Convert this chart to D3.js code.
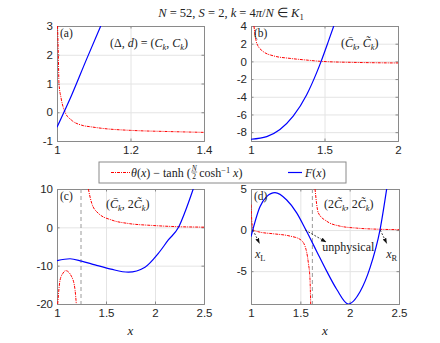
<!DOCTYPE html>
<html>
<head>
<meta charset="utf-8">
<script src="https://cdn.jsdelivr.net/npm/d3@7"></script>
<style>
body { margin: 0; background: #fff; }
</style>
</head>
<body>
<div id="chart"></div>
<script>
// values
// panel (a)
var redAx = [1.0015, 1.0036, 1.0054, 1.011, 1.022, 1.04, 1.067, 1.094, 1.13, 1.2, 1.3, 1.4];
var redAy = [3, 2, 1, 0.5, 0, -0.28, -0.45, -0.51, -0.57, -0.63, -0.67, -0.7];
var blueAx = [1, 1.04, 1.08, 1.119];
var blueAy = [-0.52, 0.6, 1.83, 3.0];
// panel (b)
var redBx = [1.02, 1.039, 1.084, 1.152, 1.265, 1.378, 1.48, 1.72, 2.0];
var redBy = [4, 2.05, 1.1, 0.63, 0.34, 0.15, 0, -0.12, -0.18];
var blueBx = [1, 1.107, 1.197, 1.287, 1.378, 1.446, 1.477, 1.525, 1.563];
var blueBy = [-8.8, -8.5, -7.7, -6.2, -3.8, -1.3, 0, 2.2, 4];
// panel (c)
var redC1x = [1.007, 1.031, 1.06, 1.089, 1.15, 1.184, 1.197];
var redC1y = [-20, -13.8, -12.0, -11.3, -12.9, -16.3, -20];
var redC2x = [1.32, 1.354, 1.42, 1.558, 1.728, 1.966, 2.2, 2.5];
var redC2y = [10, 6.3, 3.7, 1.9, 1.0, 0.5, 0.2, 0.05];
var blueCx = [1, 1.133, 1.25, 1.388, 1.55, 1.728, 1.898, 2.034, 2.136, 2.24, 2.306, 2.39];
var blueCy = [-8.7, -8.2, -8.8, -9.8, -10.9, -11.7, -10.4, -6.8, -3.3, 0, 4.0, 10];
var poleC = 1.245;
// panel (d)
var redD1x = [1, 1.01, 1.024, 1.091, 1.226, 1.395, 1.497, 1.547, 1.581, 1.598, 1.605];
var redD1y = [3.1, 0.8, 0, -0.25, -0.45, -0.73, -1.13, -1.95, -3.97, -6.0, -9];
var redD2x = [1.649, 1.682, 1.767, 1.902, 2.07, 2.3, 2.5];
var redD2y = [5, 2.1, 1.08, 0.48, 0.24, 0.1, 0.05];
var blueDx = [1, 1.091, 1.159, 1.243, 1.362, 1.463, 1.557, 1.666, 1.767, 1.868, 1.986, 2.105, 2.206, 2.307, 2.375];
var blueDy = [-0.8, 2.85, 4.07, 4.55, 3.66, 2.1, 0, -2.6, -5.0, -7.2, -9.0, -7.5, -4.6, 0, 5];
var poleD = 1.622;
// annotations in (d): arrow start / end and label
var arrowFrom = [[1.02, 0], [1.55, 0], [2.31, 0]];
var arrowTo = [[1.085, -1.6], [1.76, -1.45], [2.375, -1.6]];
var noteText = ["x", "unphysical", "x"];
var noteSub = ["L", "", "R"];
var notePos = [[1.04, -3.4], [1.723, -2.6], [2.37, -3.4]];

// tick values
var ticksAx = [1, 1.2, 1.4], ticksAy = [-1, 0, 1, 2, 3];
var ticksBx = [1, 1.5, 2], ticksBy = [-8, -6, -4, -2, 0, 2, 4];
var ticksCx = [1, 1.5, 2, 2.5], ticksCy = [-20, -10, 0, 10];
var ticksDx = [1, 1.5, 2, 2.5], ticksDy = [-5, 0, 5];

var serif = "'Liberation Serif', 'Times New Roman', serif";
var sans = "'Liberation Sans', Arial, sans-serif";
var redDash = "3,1,1,1";

var svg = d3.select("#chart").append("svg")
  .attr("width", 440)
  .attr("height", 343);

function zip(xs, ys) { return xs.map(function(d, i) { return [d, ys[i]]; }); }

// math-like text built from tspans
function math(sel, x, y, pieces, size, anchor) {
  var t = sel.append("text")
    .attr("x", x).attr("y", y)
    .attr("font-family", serif)
    .attr("font-size", size)
    .attr("fill", "#222")
    .attr("text-anchor", anchor || "start");
  var shift = 0;
  pieces.forEach(function(p) {
    var st = p[1] || "";
    var s = t.append("tspan").text(p[0]);
    if (st.indexOf("i") >= 0) s.attr("font-style", "italic");
    var target = st.indexOf("sub") >= 0 ? 3 : (st.indexOf("sup") >= 0 ? -4 : 0);
    if (target !== shift) { s.attr("dy", target - shift); shift = target; }
    if (target !== 0) s.attr("font-size", size * 0.7);
  });
  return t;
}

svg.append("defs").append("marker")
  .attr("id", "head")
  .attr("viewBox", "0 0 10 10")
  .attr("refX", 9).attr("refY", 5)
  .attr("markerWidth", 7).attr("markerHeight", 7)
  .attr("orient", "auto")
  .append("path")
  .attr("d", "M0,1.5L10,5L0,8.5Z")
  .attr("fill", "#111");

var panels = [
  {id: "a", x0: 57, x1: 204, y0: 26, y1: 141, xd: [1, 1.4], yd: [-1, 3], xt: ticksAx, yt: ticksAy,
   red: [zip(redAx, redAy)], blue: zip(blueAx, blueAy)},
  {id: "b", x0: 251, x1: 398, y0: 26, y1: 141, xd: [1, 2], yd: [-9, 4], xt: ticksBx, yt: ticksBy,
   red: [zip(redBx, redBy)], blue: zip(blueBx, blueBy)},
  {id: "c", x0: 57, x1: 204, y0: 189, y1: 304, xd: [1, 2.5], yd: [-20, 10], xt: ticksCx, yt: ticksCy,
   red: [zip(redC1x, redC1y), zip(redC2x, redC2y)], blue: zip(blueCx, blueCy), pole: poleC},
  {id: "d", x0: 251, x1: 399, y0: 189, y1: 304, xd: [1, 2.5], yd: [-9, 5], xt: ticksDx, yt: ticksDy,
   red: [zip(redD1x, redD1y), zip(redD2x, redD2y)], blue: zip(blueDx, blueDy), pole: poleD}
];

panels.forEach(function(p) {
  var w = p.x1 - p.x0, h = p.y1 - p.y0;
  var x = d3.scaleLinear().domain(p.xd).range([0, w]);
  var y = d3.scaleLinear().domain(p.yd).range([h, 0]);
  p.x = x; p.y = y;
  var g = svg.append("g").attr("transform", "translate(" + p.x0 + "," + p.y0 + ")");
  p.g = g;

  g.append("clipPath").attr("id", "clip" + p.id)
    .append("rect").attr("width", w).attr("height", h);

  // grid
  var grid = g.append("g");
  grid.append("g").attr("transform", "translate(0," + h + ")")
    .call(d3.axisBottom(x).tickValues(p.xt).tickSize(-h).tickFormat(""));
  grid.append("g")
    .call(d3.axisLeft(y).tickValues(p.yt).tickSize(-w).tickFormat(""));
  grid.selectAll(".domain").remove();
  grid.selectAll("line").attr("stroke", "#e4e4e4");

  // axes with inward ticks
  var axes = g.append("g");
  axes.append("g").attr("transform", "translate(0," + h + ")")
    .call(d3.axisBottom(x).tickValues(p.xt).tickSize(-2.5).tickPadding(5).tickFormat(function(d) { return String(d); }));
  axes.append("g")
    .call(d3.axisLeft(y).tickValues(p.yt).tickSize(-2.5).tickPadding(4).tickFormat(function(d) { return String(d); }));
  axes.append("g")
    .call(d3.axisTop(x).tickValues(p.xt).tickSize(-2.5).tickFormat(""));
  axes.append("g").attr("transform", "translate(" + w + ",0)")
    .call(d3.axisRight(y).tickValues(p.yt).tickSize(-2.5).tickFormat(""));
  axes.selectAll(".domain, .tick line").attr("stroke", "#8a8a8a");
  axes.selectAll(".tick text").attr("font-family", sans).attr("font-size", 11.5).attr("fill", "#262626");

  var plot = g.append("g").attr("clip-path", "url(#clip" + p.id + ")");
  var line = d3.line()
    .x(function(d) { return x(d[0]); })
    .y(function(d) { return y(d[1]); })
    .curve(d3.curveMonotoneX);

  if (p.pole !== undefined) {
    plot.append("line")
      .attr("x1", x(p.pole)).attr("x2", x(p.pole))
      .attr("y1", 0).attr("y2", h)
      .attr("stroke", "#9a9a9a")
      .attr("stroke-dasharray", "4,3");
  }

  p.red.forEach(function(seg) {
    plot.append("path").datum(seg)
      .attr("d", line)
      .attr("fill", "none")
      .attr("stroke", "#ff0000")
      .attr("stroke-width", 1)
      .attr("stroke-dasharray", redDash);
  });
  plot.append("path").datum(p.blue)
    .attr("d", line)
    .attr("fill", "none")
    .attr("stroke", "#0000ff")
    .attr("stroke-width", 1.2);

  // panel tag
  g.append("text")
    .attr("x", 3).attr("y", 11)
    .attr("font-family", serif)
    .attr("font-size", 11.5)
    .attr("fill", "#222")
    .text("(" + p.id + ")");
});

// panel captions
math(svg, 110, 47, [["(Δ, "], ["d", "i"], [") = ("], ["C", "i"], ["k", "isub"], [", "], ["C", "i"], ["k", "isub"], [")"]], 12);
math(svg, 341, 47, [["("], ["C\u0304", "i"], ["k", "isub"], [", "], ["C\u0303", "i"], ["k", "isub"], [")"]], 12);
math(svg, 106, 208, [["("], ["C\u0304", "i"], ["k", "isub"], [", 2"], ["C\u0303", "i"], ["k", "isub"], [")"]], 12);
math(svg, 324, 208, [["(2"], ["C\u0303", "i"], ["k", "isub"], [", 2"], ["C\u0303", "i"], ["k", "isub"], [")"]], 12);

// title
math(svg, 231, 17, [["N", "i"], [" = 52, "], ["S", "i"], [" = 2, "], ["k", "i"], [" = 4"], ["π", "i"], ["/"], ["N", "i"], [" ∈ "], ["K", "i"], ["1", "sub"]], 12.5, "middle");

// x labels
[panels[2], panels[3]].forEach(function(p) {
  svg.append("text")
    .attr("x", (p.x0 + p.x1) / 2).attr("y", 335)
    .attr("text-anchor", "middle")
    .attr("font-family", serif)
    .attr("font-style", "italic")
    .attr("font-size", 13)
    .attr("fill", "#222")
    .text("x");
});

// annotations in (d)
var pd = panels[3];
arrowFrom.forEach(function(a, i) {
  pd.g.append("line")
    .attr("x1", pd.x(a[0])).attr("y1", pd.y(a[1]))
    .attr("x2", pd.x(arrowTo[i][0])).attr("y2", pd.y(arrowTo[i][1]))
    .attr("stroke", "#111")
    .attr("stroke-width", 0.8)
    .attr("stroke-dasharray", "2,1.5")
    .attr("marker-end", "url(#head)");
  var pieces = noteSub[i] ? [[noteText[i], "i"], [noteSub[i], "sub"]] : [[noteText[i]]];
  math(pd.g, pd.x(notePos[i][0]), pd.y(notePos[i][1]), pieces, 12);
});

// legend
var lg = svg.append("g");
lg.append("rect")
  .attr("x", 99).attr("y", 162).attr("width", 247).attr("height", 21)
  .attr("fill", "#fff").attr("stroke", "#8a8a8a");
lg.append("line")
  .attr("x1", 111).attr("x2", 130).attr("y1", 172.5).attr("y2", 172.5)
  .attr("stroke", "#ff0000").attr("stroke-dasharray", redDash);
var t1 = math(lg, 131, 177, [["θ", "i"], ["("], ["x", "i"], [") − tanh ("]], 12);
var fx = 131 + t1.node().getComputedTextLength() + 0.5;
lg.append("text").attr("x", fx + 3).attr("y", 170.5).attr("text-anchor", "middle")
  .attr("font-family", serif).attr("font-style", "italic").attr("font-size", 7.5).attr("fill", "#222").text("N");
lg.append("line").attr("x1", fx).attr("x2", fx + 6).attr("y1", 172).attr("y2", 172).attr("stroke", "#222").attr("stroke-width", 0.5);
lg.append("text").attr("x", fx + 3).attr("y", 179).attr("text-anchor", "middle")
  .attr("font-family", serif).attr("font-size", 7.5).attr("fill", "#222").text("2");
math(lg, fx + 8, 177, [["cosh"], ["−1", "sup"], [" "], ["x", "i"], [")"]], 12);
lg.append("line")
  .attr("x1", 288).attr("x2", 302).attr("y1", 172.5).attr("y2", 172.5)
  .attr("stroke", "#0000ff").attr("stroke-width", 1.2);
math(lg, 305, 177, [["F", "i"], ["("], ["x", "i"], [")"]], 12);
</script>
</body>
</html>
